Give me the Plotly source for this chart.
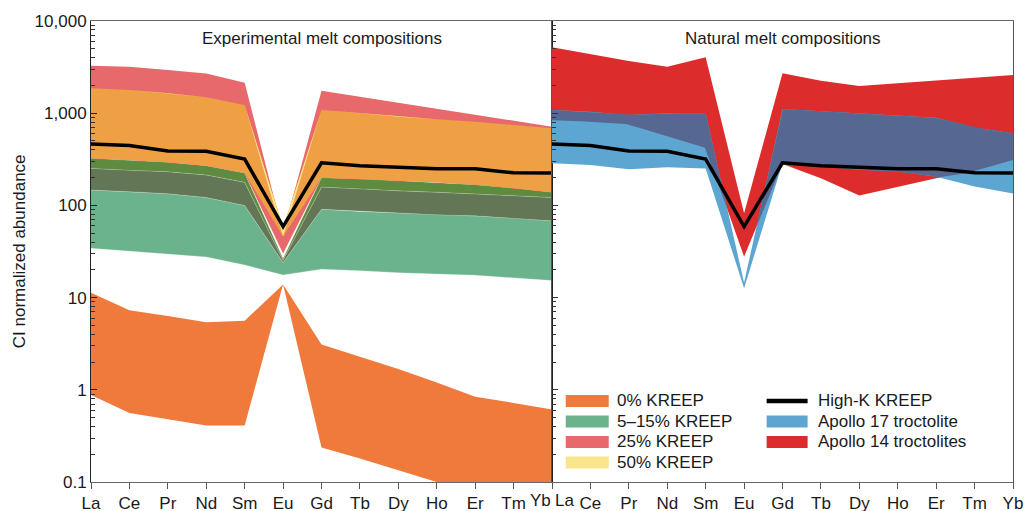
import numpy as np
import plotly.graph_objects as go

# Rare earth elements (Pm omitted), CI-chondrite normalised
elements = ["La", "Ce", "Pr", "Nd", "Sm", "Eu", "Gd", "Tb", "Dy", "Ho", "Er", "Tm", "Yb"]

# Experimental melts
kreep0_upper = [11.3, 7.3, 6.3, 5.4, 5.6, 13.9, 3.1, 2.3, 1.68, 1.2, 0.84, 0.72, 0.61]
kreep0_lower = [0.88, 0.56, 0.48, 0.41, 0.41, 13.9, 0.236, 0.18, 0.135, 0.10, 0.085, 0.075, 0.065]

kreep5_lower = [34.3, 31.6, 29.7, 27.6, 22.6, 17.6, 20.3, 19.6, 18.6, 18.0, 17.5, 16.4, 15.3]
kreep5_upper = [147, 141, 134, 122, 100, 24, 91, 86, 83, 79, 77, 73, 68]
kreep10_upper = [252, 240, 232, 214, 178, 25.5, 158, 152, 144, 139, 133, 128, 122]
kreep15_upper = [324, 311, 294, 270, 224, 26.5, 200, 194, 185, 178, 168, 154, 139]

kreep25_lower = [324, 311, 294, 270, 224, 30, 200, 194, 185, 178, 168, 154, 139]
kreep25_upper = [3280, 3195, 2940, 2700, 2143, 50, 1754, 1512, 1310, 1120, 960, 830, 714]
kreep25_50_lower = [324, 311, 294, 270, 224, 46, 200, 194, 185, 178, 168, 154, 139]
kreep25_50_upper = [1862, 1786, 1644, 1486, 1227, 58, 1084, 1000, 917, 859, 808, 742, 686]
kreep50_lower = [1862, 1786, 1644, 1486, 1227, 46, 1084, 1000, 917, 859, 808, 742, 686]
kreep50_upper = [1862, 1786, 1644, 1486, 1227, 57, 1084, 1000, 917, 859, 808, 742, 686]

# Reference composition
high_k_kreep = [463, 446, 389, 386, 318, 59, 290, 270, 259, 249, 249, 226, 225]

# Natural melts
apollo14_upper = [5180, 4400, 3680, 3200, 4040, 82, 2706, 2254, 1972, 2110, 2272, 2428, 2596]
apollo14_lower = [840, 810, 760, 556, 420, 27.8, 282, 197, 128, 159, 197, 232, 311]
apollo17_upper = [1084, 1040, 957, 1000, 998, 14.5, 1110, 1055, 998, 940, 890, 700, 605]
apollo17_lower = [286, 274, 246, 259, 252, 12.6, 288, 263, 243, 233, 205, 160, 135]

C_K0 = "#F07A3C"
C_GREEN_LIGHT = "#6BB38C"
C_GREEN_DARK = "#637656"
C_GREEN = "#5E8B40"
C_ORANGE = "#EFA044"
C_PINK = "#E8696B"
C_YELLOW = "#F9E58E"
C_BLUE = "#5EA6D2"
C_RED = "#DD2C2C"
C_OVERLAP = "#566791"

x = np.arange(len(elements))
fig = go.Figure()


def band(lower, upper, color, xa="x", ya="y", edge=None):
    xs = list(x) + list(x[::-1])
    ys = list(upper) + list(lower[::-1])
    line = dict(width=0) if edge is None else dict(width=0.7, color=edge)
    fig.add_trace(go.Scatter(x=xs, y=ys, xaxis=xa, yaxis=ya, mode="lines",
                             fill="toself", fillcolor=color, line=line,
                             hoverinfo="skip", showlegend=False))


# ---- Experimental panel ----
band(kreep0_lower, kreep0_upper, C_K0)
band(kreep5_lower, kreep5_upper, C_GREEN_LIGHT, edge="rgba(255,255,255,0.35)")
band(kreep5_upper, kreep10_upper, C_GREEN_DARK, edge="rgba(255,255,255,0.25)")
band(kreep10_upper, kreep15_upper, C_GREEN, edge="rgba(255,255,255,0.25)")
band(kreep25_lower, kreep25_upper, C_PINK)
band(kreep25_50_lower, kreep25_50_upper, C_ORANGE)
band(kreep50_lower, kreep50_upper, C_YELLOW)
fig.add_trace(go.Scatter(x=x, y=high_k_kreep, xaxis="x", yaxis="y", mode="lines",
                         line=dict(color="black", width=3.5), showlegend=False))

# ---- Natural panel ----
band(apollo14_lower, apollo14_upper, C_RED, "x2", "y2")
band(apollo17_lower, apollo17_upper, C_BLUE, "x2", "y2")

# where the two troctolite ranges overlap
xf = np.linspace(0, len(elements) - 1, 1201)
lg = lambda v: np.interp(xf, x, np.log10(v))
lo = np.maximum(lg(apollo14_lower), lg(apollo17_lower))
up = np.minimum(lg(apollo14_upper), lg(apollo17_upper))
idx = np.flatnonzero(lo < up)
if idx.size:
    runs = np.split(idx, np.flatnonzero(np.diff(idx) > 1) + 1)
    for r in runs:
        xs = np.concatenate([xf[r], xf[r][::-1]])
        ys = np.concatenate([10 ** up[r], 10 ** lo[r][::-1]])
        fig.add_trace(go.Scatter(x=xs, y=ys, xaxis="x2", yaxis="y2", mode="lines",
                                 fill="toself", fillcolor=C_OVERLAP, line=dict(width=0),
                                 hoverinfo="skip", showlegend=False))

fig.add_trace(go.Scatter(x=x, y=high_k_kreep, xaxis="x2", yaxis="y2", mode="lines",
                         line=dict(color="black", width=3.5), showlegend=False))

# ---- Axes ----
W, H = 1025, 511
ML, MR, MT, MB = 91, 11.5, 21, 29.3
PW, PH = W - ML - MR, H - MT - MB


def px(X):
    return (X - ML) / PW


def py(Y):
    return 1 - (Y - MT) / PH


major = [0.1, 1, 10, 100, 1000, 10000]
major_txt = ["0.1", "1", "10", "100", "1,000", "10,000"]
minor = [m * 10.0 ** e for e in range(-1, 4) for m in range(2, 10)]

yax = dict(type="log", range=[-1, 4], tickmode="array", tickvals=major, automargin=False,
           ticks="inside", ticklen=6, tickwidth=1, showgrid=False, zeroline=False,
           showline=True, mirror=True, linewidth=1,
           minor=dict(tickmode="array", tickvals=minor, ticks="inside", ticklen=4,
                      tickwidth=1, tickcolor="#333", showgrid=False))

# the two labels meeting at the panel boundary are set apart by hand below
left_txt = elements[:-1] + [""]
right_txt = [""] + elements[1:]
xax = dict(range=[0, len(elements) - 1], tickmode="array", tickvals=list(x), automargin=False,
           ticks="outside", ticklen=6, tickwidth=1, tickcolor="#555", showgrid=False,
           zeroline=False, showline=True, mirror=True, linecolor="#666", linewidth=1,
           tickfont=dict(size=17))

fig.update_layout(
    width=W, height=H,
    margin=dict(l=ML, r=MR, t=MT, b=MB, pad=0, autoexpand=False),
    paper_bgcolor="white", plot_bgcolor="white", showlegend=False,
    font=dict(family="Liberation Sans, Arial, sans-serif", size=17, color="#1a1a1a"),
    xaxis=dict(domain=[0, 0.5], anchor="y", ticktext=left_txt, **xax),
    xaxis2=dict(domain=[0.5, 1], anchor="y2", ticktext=right_txt, **xax),
    yaxis=dict(anchor="x", ticktext=major_txt, linecolor="#222", tickcolor="#222",
               tickfont=dict(size=17), **yax),
    yaxis2=dict(anchor="x2", matches="y", ticktext=major_txt, showticklabels=False,
                linecolor="#555", tickcolor="#333", **yax),
)

# boundary tick labels
fig.add_annotation(xref="paper", yref="paper", x=px(552), y=py(490), text=elements[-1],
                   xanchor="right", yanchor="top", showarrow=False, font=dict(size=17),
                   borderpad=0)
fig.add_annotation(xref="paper", yref="paper", x=px(554), y=py(490), text=elements[0],
                   xanchor="left", yanchor="top", showarrow=False, font=dict(size=17),
                   borderpad=0)

ann = [
    dict(x=px(322), y=py(38), text="Experimental melt compositions"),
    dict(x=px(783), y=py(38), text="Natural melt compositions"),
]
for a in ann:
    fig.add_annotation(xref="paper", yref="paper", xanchor="center", yanchor="middle",
                       showarrow=False, font=dict(size=17), **a)

fig.add_annotation(xref="paper", yref="paper", x=px(19), y=py(251), text="CI normalized abundance",
                   textangle=-90, showarrow=False, xanchor="center", yanchor="middle",
                   font=dict(size=17))

# ---- Legend ----
legend_left = [("0% KREEP", C_K0), ("5–15% KREEP", C_GREEN_LIGHT),
               ("25% KREEP", C_PINK), ("50% KREEP", C_YELLOW)]
legend_right = [("High-K KREEP", "line"), ("Apollo 17 troctolite", C_BLUE),
                ("Apollo 14 troctolites", C_RED)]
rows_y = [400.7, 421.2, 441.7, 462.2]

for (label, col), yy in zip(legend_left, rows_y):
    fig.add_shape(type="rect", xref="paper", yref="paper", x0=px(566), x1=px(609),
                  y0=py(yy + 6), y1=py(yy - 6), fillcolor=col, line=dict(width=0))
    fig.add_annotation(xref="paper", yref="paper", x=px(615), y=py(yy), text=label,
                       xanchor="left", yanchor="middle", showarrow=False, font=dict(size=17))

for (label, col), yy in zip(legend_right, rows_y):
    if col == "line":
        fig.add_shape(type="line", xref="paper", yref="paper", x0=px(767), x1=px(808),
                      y0=py(yy), y1=py(yy), line=dict(color="black", width=4.5))
    else:
        fig.add_shape(type="rect", xref="paper", yref="paper", x0=px(767), x1=px(808),
                      y0=py(yy + 6), y1=py(yy - 6), fillcolor=col, line=dict(width=0))
    fig.add_annotation(xref="paper", yref="paper", x=px(816), y=py(yy), text=label,
                       xanchor="left", yanchor="middle", showarrow=False, font=dict(size=17))

fig.write_html("out.html")
